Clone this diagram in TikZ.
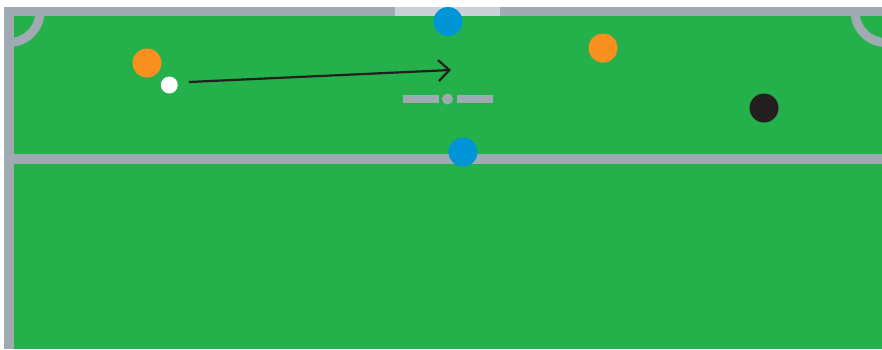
\documentclass[tikz,border=0pt]{standalone}
\usetikzlibrary{arrows.meta}
\definecolor{pitch}{HTML}{24B04B}
\definecolor{lineg}{HTML}{A0AAB2}
\definecolor{goalg}{HTML}{C9D0D6}
\definecolor{pblue}{HTML}{0095D6}
\definecolor{porange}{HTML}{F7901E}
\definecolor{pblack}{HTML}{231F20}
\tikzset{
  pline/.style={draw=lineg, line width=9pt},
  player/.style={circle, inner sep=0pt, minimum size=29pt, draw=none},
  ball/.style={circle, inner sep=0pt, minimum size=17pt, fill=white, draw=none},
  pass/.style={draw=pblack, line width=2.2pt, -{Straight Barb[length=11pt,width=21pt,line width=2.2pt]}}
}
\begin{document}
\begin{tikzpicture}[x=1pt,y=-1pt]
\useasboundingbox (0,0) rectangle (882,349);
\fill[white] (0,0) rectangle (882,349);
\fill[pitch] (4,7) rectangle (882,349);
\begin{scope}
\clip (4,7) rectangle (882,349);
\draw[pline] (9,11.5) circle (31);
\draw[pline] (886,11.5) circle (31);
\draw[pline] (0,11.5) -- (882,11.5);
\draw[draw=lineg, line width=10pt] (9,0) -- (9,349);
\draw[draw=lineg, line width=9.5pt] (0,159) -- (882,159);
\end{scope}
\fill[goalg] (395,7) rectangle (500,16);
% penalty mark
\fill[lineg] (403,95) rectangle (439,103);
\fill[lineg] (457,95) rectangle (493,103);
\fill[lineg] (447.5,99) circle (5.5);
% players
\node[player, fill=pblue] (b1) at (448,21.5) {};
\node[player, fill=pblue] (b2) at (463,152) {};
\node[player, fill=porange] (o1) at (147,63) {};
\node[player, fill=porange] (o2) at (603,48) {};
\node[player, fill=pblack] (k1) at (764,108) {};
\node[ball] (ball) at (169.3,85) {};
\coordinate (ps) at (189,82);
\coordinate (pe) at (451,70);
\draw[pass] (ps) -- (pe);
\end{tikzpicture}
\end{document}
